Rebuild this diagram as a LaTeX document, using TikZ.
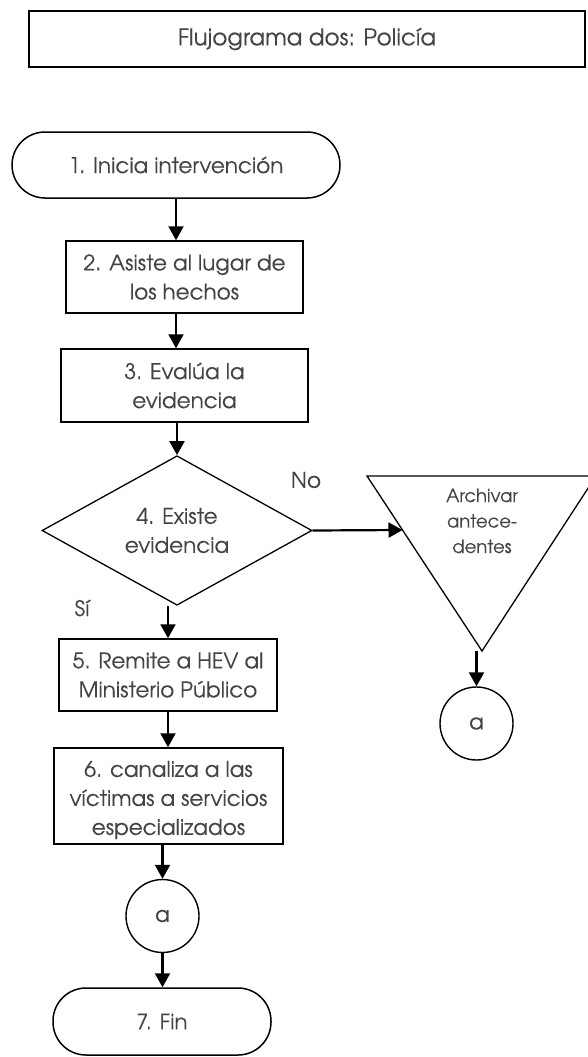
\documentclass[tikz,border=0pt]{standalone}
\usepackage{fontspec}
\setmainfont{texgyreadventor}[Extension=.otf, UprightFont=*-regular, BoldFont=*-bold, ItalicFont=*-italic, BoldItalicFont=*-bolditalic, FakeBold=0.15]
\usetikzlibrary{arrows.meta,shapes.geometric}
\definecolor{txt}{HTML}{444444}
\begin{document}
\begin{tikzpicture}[x=1pt,y=-1pt,
  mainfont/.style={font=\fontsize{21.5}{29}\selectfont},
  smallfont/.style={font=\fontsize{18}{25.5}\selectfont},
  box/.style={draw=black, line width=1.5pt, text=txt, align=center, inner sep=0pt, mainfont},
  term/.style={box, rounded corners=33pt},
  dec/.style={draw=black, line width=1.3pt, shape=diamond, text=txt, align=center, inner sep=0pt, mainfont},
  conn/.style={draw=black, line width=1.4pt, shape=circle, text=txt, inner sep=0pt, minimum size=73pt, mainfont},
  lbl/.style={text=txt, inner sep=0pt, mainfont},
  arr/.style={draw=black, line width=2.2pt, -{Triangle[width=15pt,length=14pt]}}
]
\useasboundingbox (0,0) rectangle (587,1057);
% title
\node[box, line width=2pt, minimum width=556pt, minimum height=56pt, font=\fontsize{23}{29}\selectfont] (title) at (307,39) {Flujograma dos: Policía};
% nodes
\node[term, minimum width=328pt, minimum height=66pt] (t1) at (176,165) {1. Inicia intervención};
\node[box, minimum width=237pt, minimum height=72pt] (b2) at (184.5,277) {2. Asiste al lugar de\\los hechos};
\node[box, minimum width=247pt, minimum height=73pt] (b3) at (184.5,385.5) {3. Evalúa la\\evidencia};
\node[dec, minimum width=270pt, minimum height=145pt] (d4) at (177,530.5) {4. Existe\\evidencia};
\node[box, minimum width=218pt, minimum height=72pt] (b5) at (168,675) {5. Remite a HEV al\\Ministerio Público};
\node[box, minimum width=229pt, minimum height=96pt] (b6) at (168.5,796) {};
\node[text=txt, align=center, inner sep=0pt, mainfont] (b6t) at (168.5,800) {6. canaliza a las\\víctimas a servicios\\especializados};
\node[conn] (c6) at (162.5,916) {a};
\node[term, minimum width=218pt, minimum height=67pt] (t7) at (162,1021.5) {7. Fin};
% triangle (off-page storage)
\coordinate (tria) at (367,476);
\coordinate (trib) at (596,476);
\coordinate (apex) at (482,651);
\coordinate (tleft) at (402.5,530);
\draw[line width=1.3pt, line join=miter] (tria) -- (trib) -- (apex) -- cycle;
\node[text=txt, align=center, inner sep=0pt, smallfont] (arch) at (482,521) {Archivar\\antece-\\dentes};
\node[conn] (c8) at (476.5,723.5) {a};
% labels
\node[lbl] (no) at (306,480) {No};
\node[lbl] (si) at (82,608) {Sí};
% connectors
\draw[arr] (t1.south) -- (t1.south |- b2.north);
\draw[arr] (b2.south -| t1) -- (b3.north -| t1);
\draw[arr] (b3.south -| d4) -- (d4.north);
\draw[arr] (d4.east) -- (tleft);
\draw[arr] (d4.south -| b5) -- (b5.north);
\draw[arr] (b5.south) -- (b6.north -| b5);
\draw[arr] (b6.south -| c6) -- (c6.north);
\draw[arr] (c6.south) -- (t7.north -| c6);
\draw[arr] (apex -| c8) -- (c8.north);
\end{tikzpicture}
\end{document}
